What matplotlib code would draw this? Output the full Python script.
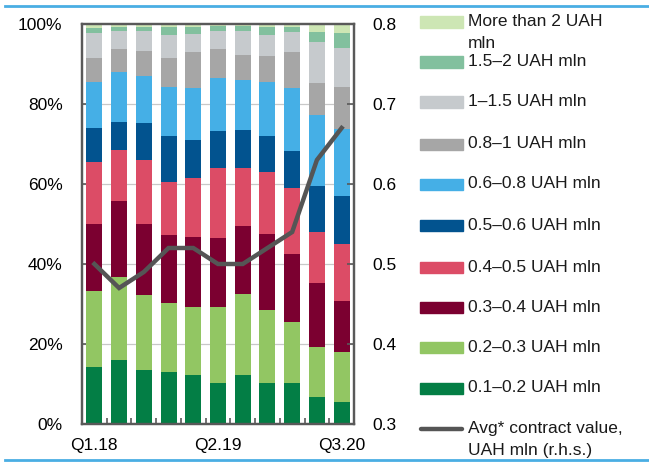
import numpy as np
import matplotlib
matplotlib.use("Agg")
import matplotlib.pyplot as plt
from matplotlib.patches import Rectangle
from matplotlib.lines import Line2D
from matplotlib.ticker import FuncFormatter

plt.rcParams['font.family'] = ['Liberation Sans', 'DejaVu Sans']

quarters = ['Q1.18', 'Q2.18', 'Q3.18', 'Q4.18', 'Q1.19', 'Q2.19',
            'Q3.19', 'Q4.19', 'Q1.20', 'Q2.20', 'Q3.20']
shown_labels = {0: 'Q1.18', 5: 'Q2.19', 10: 'Q3.20'}

# shares of contracts by value bracket, % (bottom bracket first)
s_01_02 = [14.3, 16.0, 13.5, 13.0, 12.3, 10.3, 12.3, 10.3, 10.3, 6.8, 5.5]
s_02_03 = [19.0, 20.8, 18.8, 17.3, 17.0, 19.0, 20.3, 18.3, 15.3, 12.5, 12.5]
s_03_04 = [16.8, 19.0, 17.8, 17.0, 17.5, 17.3, 16.8, 19.0, 16.8, 16.0, 12.8]
s_04_05 = [15.3, 12.8, 15.8, 13.3, 14.8, 17.3, 14.5, 15.5, 16.5, 12.8, 14.3]
s_05_06 = [8.5, 7.0, 9.3, 11.3, 9.5, 9.3, 9.5, 9.0, 9.3, 11.3, 11.8]
s_06_08 = [11.5, 12.3, 11.8, 12.3, 12.8, 13.3, 12.5, 13.3, 15.8, 17.8, 16.8]
s_08_1 = [6.0, 5.8, 6.3, 7.3, 9.0, 7.3, 6.3, 6.5, 9.0, 8.0, 10.5]
s_1_15 = [6.3, 4.5, 5.0, 5.8, 4.5, 4.5, 6.0, 5.3, 5.0, 10.3, 9.8]
s_15_2 = [1.3, 1.0, 1.0, 2.0, 1.8, 1.3, 1.3, 2.0, 1.3, 2.5, 3.8]
s_over2 = [1.3, 1.0, 1.0, 1.0, 1.0, 0.8, 0.8, 1.0, 1.0, 2.3, 2.5]

# average contract value, UAH mln
avg_value = [0.50, 0.47, 0.49, 0.52, 0.52, 0.50, 0.50, 0.52, 0.54, 0.63, 0.67]

series = [s_01_02, s_02_03, s_03_04, s_04_05, s_05_06,
          s_06_08, s_08_1, s_1_15, s_15_2, s_over2]
names = ['0.1\u20130.2 UAH mln', '0.2\u20130.3 UAH mln', '0.3\u20130.4 UAH mln',
         '0.4\u20130.5 UAH mln', '0.5\u20130.6 UAH mln', '0.6\u20130.8 UAH mln',
         '0.8\u20131 UAH mln', '1\u20131.5 UAH mln', '1.5\u20132 UAH mln',
         'More than 2 UAH\nmln']
colors = ['#037e45', '#92c663', '#7b0030', '#dc4c66', '#02538f',
          '#45afe6', '#a6a6a6', '#c6cacd', '#82c09e', '#cde6b4']
line_name = 'Avg* contract value,\nUAH mln (r.h.s.)'

FS = 12.5
W, H = 649, 462
fig = plt.figure(figsize=(W / 100, H / 100), dpi=100)
ax = fig.add_axes([82 / W, 1 - 424 / H, 272 / W, 400 / H])

spine_c = '#595959'
x = np.arange(len(quarters))
bottom = np.zeros(len(quarters))
for vals, c in zip(series, colors):
    ax.bar(x, vals, width=0.65, bottom=bottom, color=c, zorder=2)
    bottom += np.array(vals)

ax.set_xlim(-0.5, len(quarters) - 0.5)
ax.set_ylim(0, 100)
ax.set_yticks(np.arange(0, 101, 20))
ax.yaxis.set_major_formatter(FuncFormatter(lambda v, p: f'{v:.0f}%'))
for g in (20, 40, 60, 80):
    ax.axhline(g, color='#c8c8c8', lw=0.9, zorder=1)

ax.set_xticks(list(shown_labels.keys()))
ax.set_xticklabels(list(shown_labels.values()))
ax.set_xticks(x[:-1] + 0.5, minor=True)
ax.tick_params(axis='x', which='major', length=0, pad=10, labelsize=FS)
ax.tick_params(axis='x', which='minor', direction='in', length=4,
               width=1.2, color=spine_c)
ax.tick_params(axis='y', direction='in', length=5, width=1.2,
               color=spine_c, pad=14, labelsize=FS)

for sp in ax.spines.values():
    sp.set_color(spine_c)
    sp.set_linewidth(1.6)
    sp.set_zorder(5)

ax2 = ax.twinx()
ax2.plot(x, avg_value, color='#555555', lw=3.2, solid_joinstyle='miter',
         zorder=4)
ax2.set_ylim(0.3, 0.8)
ax2.set_yticks(np.arange(0.3, 0.81, 0.1))
ax2.yaxis.set_major_formatter(FuncFormatter(lambda v, p: f'{v:.1f}'))
ax2.tick_params(axis='y', direction='in', length=5, width=1.2,
                color=spine_c, pad=13, labelsize=FS)
for sp in ax2.spines.values():
    sp.set_color(spine_c)
    sp.set_linewidth(1.6)

# legend, top to bottom: brackets from largest to smallest, then the line
def fy(py):
    return 1 - py / H

row_y = [22, 62, 102, 144, 184, 225, 267, 307, 347, 388]
for py, name, c in zip(row_y, names[::-1], colors[::-1]):
    fig.add_artist(Rectangle((420 / W, fy(py + 5.5)), 43 / W, 11 / H,
                             transform=fig.transFigure, color=c))
    for k, part in enumerate(name.split('\n')):
        fig.text(468 / W, fy(py + 21 * k), part, fontsize=FS,
                 color='#1a1a1a', va='center', ha='left')

fig.add_artist(Line2D([421 / W, 462 / W], [fy(429), fy(429)],
                      transform=fig.transFigure, color='#555555', lw=3.2,
                      solid_capstyle='round'))
for k, part in enumerate(line_name.split('\n')):
    fig.text(468 / W, fy(429 + 21 * k), part, fontsize=FS,
             color='#1a1a1a', va='center', ha='left')

# frame rules above and below the chart
for py in (5.5, 460):
    fig.add_artist(Line2D([5 / W, 1], [fy(py), fy(py)],
                          transform=fig.transFigure, color='#4aaee3', lw=2))

fig.savefig('out.png', dpi=100)
